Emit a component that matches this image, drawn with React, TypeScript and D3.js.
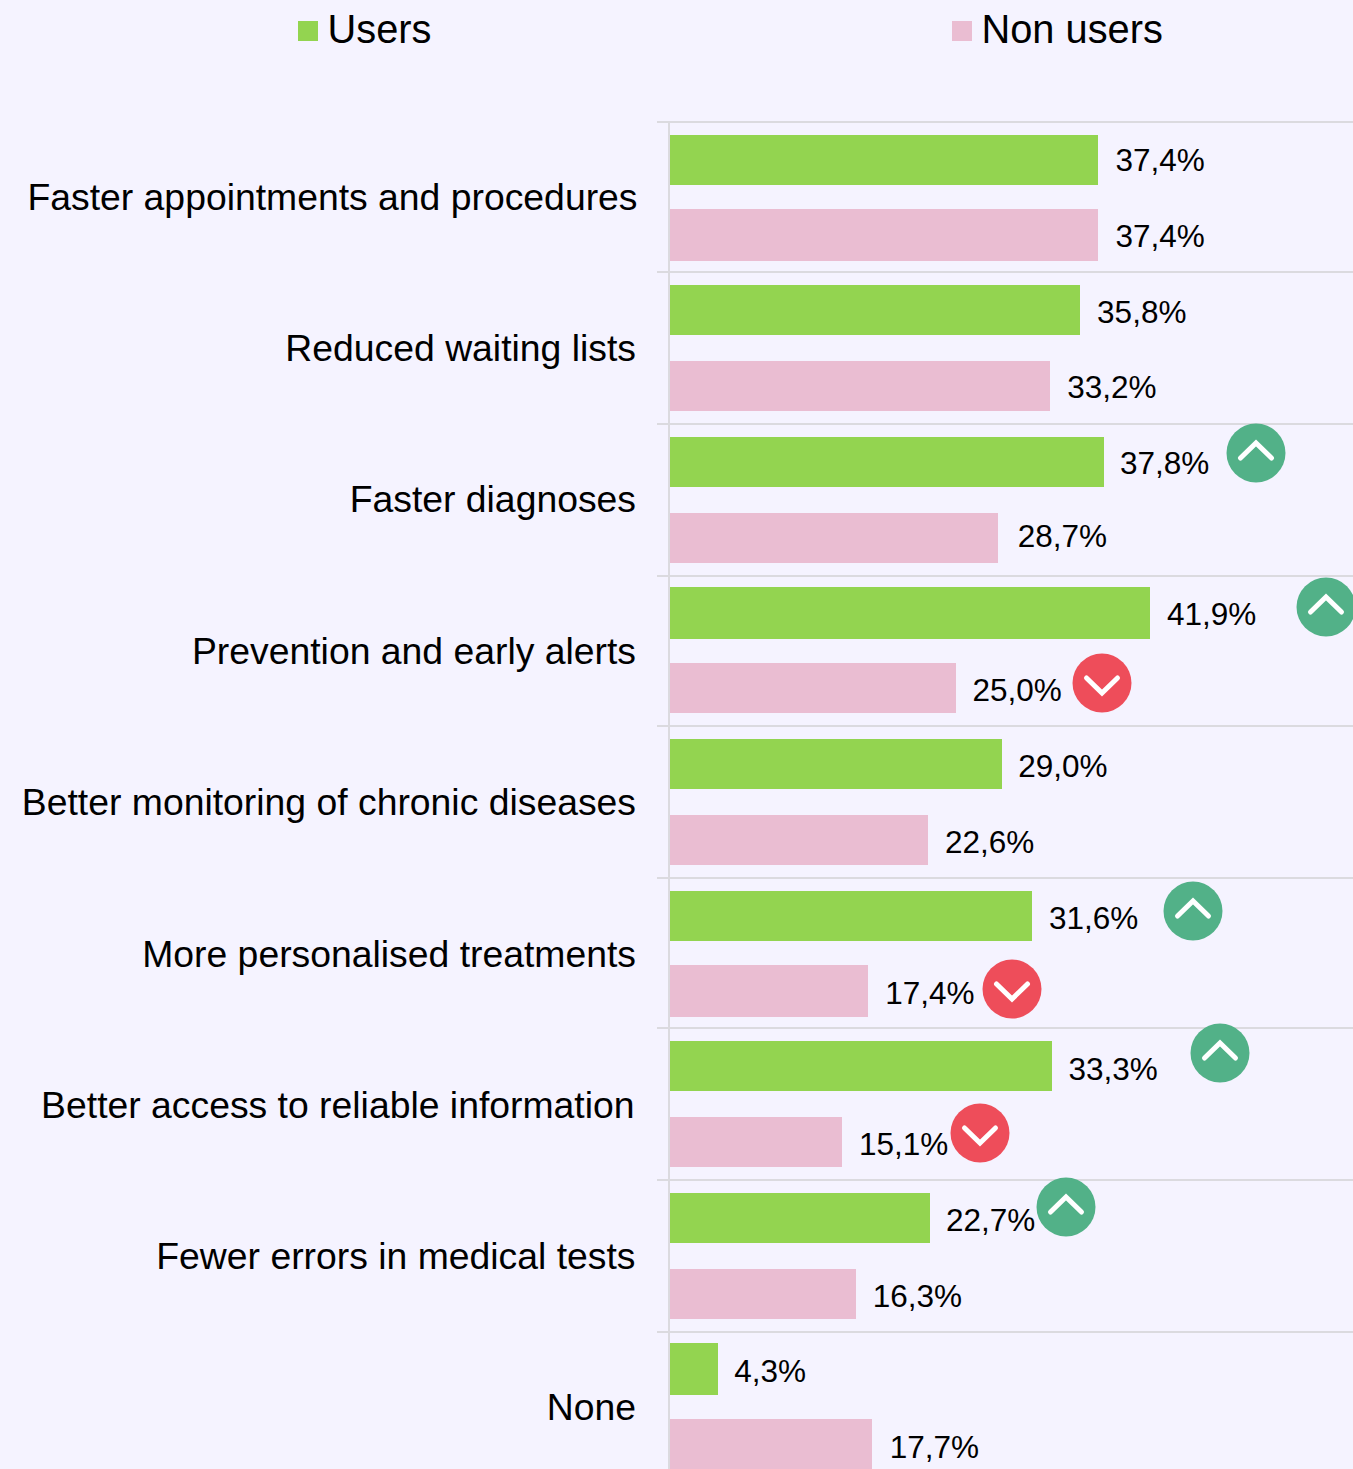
import React from "react";
import * as d3 from "d3";

const categories = [
  "Faster appointments and procedures",
  "Reduced waiting lists",
  "Faster diagnoses",
  "Prevention and early alerts",
  "Better monitoring of chronic diseases",
  "More personalised treatments",
  "Better access to reliable information",
  "Fewer errors in medical tests",
  "None",
];
const users = [37.4, 35.8, 37.84, 41.9, 29.0, 31.6, 33.34, 22.7, 4.3];
const nonUsers = [37.4, 33.2, 28.7, 25.0, 22.6, 17.4, 15.1, 16.3, 17.7];
const usersUp = [2, 3, 5, 6, 7];
const nonUsersDown = [3, 5, 6];

// small placement nudges
const upDx = [152, 176, 161, 168, 136];
const upDy = [-9, -6, -5, -13, -11];
const downDx = [146, 144, 138];
const downDy = [-5, -2, -9];
const usersLabelDx = [17.4, 17.1, 16, 17, 16.2, 17, 16.5, 16, 16.3];
const nonUsersLabelDx = [17.4, 17.3, 19.8, 16.4, 16.9, 17.3, 17, 16.7, 17.8];
const usersLabelDy = [0, 2, 1, 1, 2, 2, 3, 2, 2];
const nonUsersLabelDy = [1, 1, -2, 2, 2, 2, 2, 2, 3];
const categoryEnd = [637.5, 636, 636, 636, 636, 636, 634.5, 635.5, 636];
const categoryDy = [0, 0, 0, 0.5, 0, 1, 1, 0.5, 1];

const W = 1353;
const H = 1469;
const FONT = "'Liberation Sans', Arial, sans-serif";
const x = d3.scaleLinear().domain([0, 41.9]).range([669.2, 1149.8]);
const y = d3.scaleBand<number>().domain(d3.range(categories.length)).range([121.6, 121.6 + 151.2 * 9]);
const snap = (v: number) => 2 * Math.round(v / 2);
const fmt = (v: number) => v.toFixed(1).replace(".", ",") + "%";
const barEnd = (v: number) => snap(x(v));
const greenTop = (i: number) => snap(y(i)! + 11.6) + 1;
const greenBottom = (i: number) => snap(y(i)! + 61.9) + 1;
const pinkTop = (i: number) => snap(y(i)! + 87.1) + 1;
const pinkBottom = (i: number) => snap(y(i)! + 137.6) + 1;

function Trend({ cx, cy, up }: { cx: number; cy: number; up: boolean }) {
  const s = up ? 1 : -1;
  const d = d3.line()([[-15.5, 5 * s], [0, -10 * s], [15.5, 5 * s]] as [number, number][]) as string;
  return (
    <g transform={`translate(${cx},${cy})`}>
      <circle r={29.5} fill={up ? "#52B188" : "#EE4D5A"} />
      <path d={d} fill="none" stroke="#fff" strokeWidth={5} strokeLinecap="round" strokeLinejoin="miter" />
    </g>
  );
}

export default function App() {
  const rows = d3.range(categories.length);
  return (
    <svg width={W} height={H} viewBox={`0 0 ${W} ${H}`} style={{ position: "absolute", left: 0, top: 0, background: "#F5F3FF", fontFamily: FONT }}>
      <rect x={298} y={21} width={20} height={20} fill="#93D450" />
      <text x={327.5} y={42.5} fontSize={39.8} fill="#000">Users</text>
      <rect x={952} y={21} width={20} height={20} fill="#EABDD2" />
      <text x={981.5} y={42.5} fontSize={39.8} fill="#000">Non users</text>

      {rows.map((i) => (
        <line key={i} x1={657} x2={W} y1={snap(y(i)!)} y2={snap(y(i)!)} stroke="#DBDADF" strokeWidth={2} />
      ))}
      <line x1={669} x2={669} y1={121} y2={H} stroke="#DBDADF" strokeWidth={2} />

      {rows.map((i) => {
        const center = y(i)! + y.bandwidth() / 2;
        const gMid = (greenTop(i) + greenBottom(i)) / 2;
        const pMid = (pinkTop(i) + pinkBottom(i)) / 2;
        return (
          <g key={i}>
            <text x={categoryEnd[i]} y={center + 12.5 + categoryDy[i]} textAnchor="end" fontSize={37.35} fill="#000">{categories[i]}</text>
            <rect x={670} y={greenTop(i)} width={barEnd(users[i]) - 670} height={greenBottom(i) - greenTop(i)} fill="#93D450" />
            <rect x={670} y={pinkTop(i)} width={barEnd(nonUsers[i]) - 670} height={pinkBottom(i) - pinkTop(i)} fill="#EABDD2" />
            <text x={barEnd(users[i]) + usersLabelDx[i]} y={gMid + 11 + usersLabelDy[i]} fontSize={31.5} fill="#000">{fmt(users[i])}</text>
            <text x={barEnd(nonUsers[i]) + nonUsersLabelDx[i]} y={pMid + 11 + nonUsersLabelDy[i]} fontSize={31.5} fill="#000">{fmt(nonUsers[i])}</text>
          </g>
        );
      })}

      {usersUp.map((r, k) => (
        <Trend key={`u${k}`} up cx={barEnd(users[r]) + upDx[k]} cy={(greenTop(r) + greenBottom(r)) / 2 + upDy[k]} />
      ))}
      {nonUsersDown.map((r, k) => (
        <Trend key={`d${k}`} up={false} cx={barEnd(nonUsers[r]) + downDx[k]} cy={(pinkTop(r) + pinkBottom(r)) / 2 + downDy[k]} />
      ))}
    </svg>
  );
}
